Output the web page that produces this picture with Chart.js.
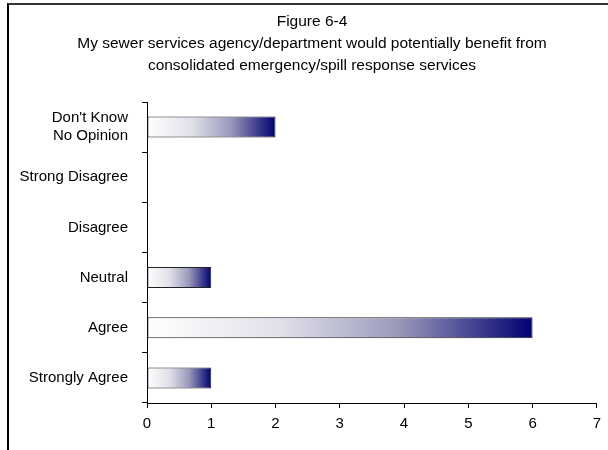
<!DOCTYPE html>
<html>
<head>
<meta charset="utf-8">
<script src="https://cdn.jsdelivr.net/npm/chart.js@4.4.0/dist/chart.umd.min.js"></script>
<style>
  html, body { margin: 0; padding: 0; background: #fff; overflow: hidden; }
  #frame { position: absolute; left: 7px; top: 3px; width: 700px; height: 500px;
           border-top: 2px solid #333; border-left: 2px solid #000; }
  #chart { position: absolute; left: 0; top: 0; }
</style>
</head>
<body>
<div id="frame"></div>
<canvas id="chart" width="608" height="450"></canvas>
<script>
// Data
const titleLines = [
  'Figure 6-4',
  'My sewer services agency/department would potentially benefit from',
  'consolidated emergency/spill response services'
];
const categories = [
  ["Don't Know", 'No Opinion'],
  'Strong Disagree',
  'Disagree',
  'Neutral',
  'Agree',
  'Strongly Agree'
];
const responses = [2, 0, 0, 1, 6, 1];
const xMin = 0;
const xMax = 7;
const xStep = 1;

const FONT = 'Arial, "Liberation Sans", sans-serif';

// white -> navy gradient, stretched along each bar
function barFill(c) {
  const chart = c.chart;
  if (!chart.chartArea || !chart.scales.x) return '#ffffff';
  const v = c.parsed ? c.parsed.x : c.raw;
  const x0 = chart.scales.x.getPixelForValue(0);
  const x1 = chart.scales.x.getPixelForValue(v);
  if (!(x1 > x0)) return '#ffffff';
  const g = chart.ctx.createLinearGradient(x0, 0, x1, 0);
  g.addColorStop(0, '#ffffff');
  g.addColorStop(0.35, '#e0e0ea');
  g.addColorStop(0.65, '#9a9abb');
  g.addColorStop(1, '#000070');
  return g;
}

// the title in the original is centred on the whole frame, not on the plot
const centreTitle = {
  id: 'centreTitle',
  afterLayout(chart) {
    const t = chart.titleBlock;
    if (t) { t.left = 16; t.right = 608; }
  }
};

const ctx = document.getElementById('chart');
const chart = new Chart(ctx, {
  type: 'bar',
  data: {
    labels: categories,
    datasets: [{
      label: 'Responses',
      data: responses,
      backgroundColor: barFill,
      borderColor: '#222222',
      borderWidth: 1,
      borderSkipped: false,
      barPercentage: 0.42,
      categoryPercentage: 1
    }]
  },
  plugins: [centreTitle],
  options: {
    responsive: false,
    animation: false,
    indexAxis: 'y',
    layout: { padding: { left: 16, right: 11, top: 0, bottom: 0 } },
    plugins: {
      legend: { display: false },
      tooltip: { enabled: false },
      title: {
        display: true,
        text: titleLines,
        color: '#000',
        font: { family: FONT, size: 15.5, weight: 'normal', lineHeight: 22 / 15.5 },
        padding: { top: 11, bottom: 25 }
      }
    },
    scales: {
      x: {
        type: 'linear',
        min: xMin,
        max: xMax,
        ticks: { stepSize: xStep, color: '#000', padding: 7, font: { family: FONT, size: 15 } },
        grid: { drawOnChartArea: false, drawTicks: true, tickLength: 5, color: '#000' },
        border: { display: true, color: '#000', width: 1 },
        afterFit: s => { s.height = 47; }
      },
      y: {
        ticks: { color: '#000', padding: 14, font: { family: FONT, size: 15, lineHeight: 18 / 15 } },
        grid: { drawOnChartArea: false, drawTicks: true, tickLength: 5, color: '#000', offset: true },
        border: { display: true, color: '#000', width: 1 },
        afterFit: s => { s.width = 131; }
      }
    }
  }
});
</script>
</body>
</html>
